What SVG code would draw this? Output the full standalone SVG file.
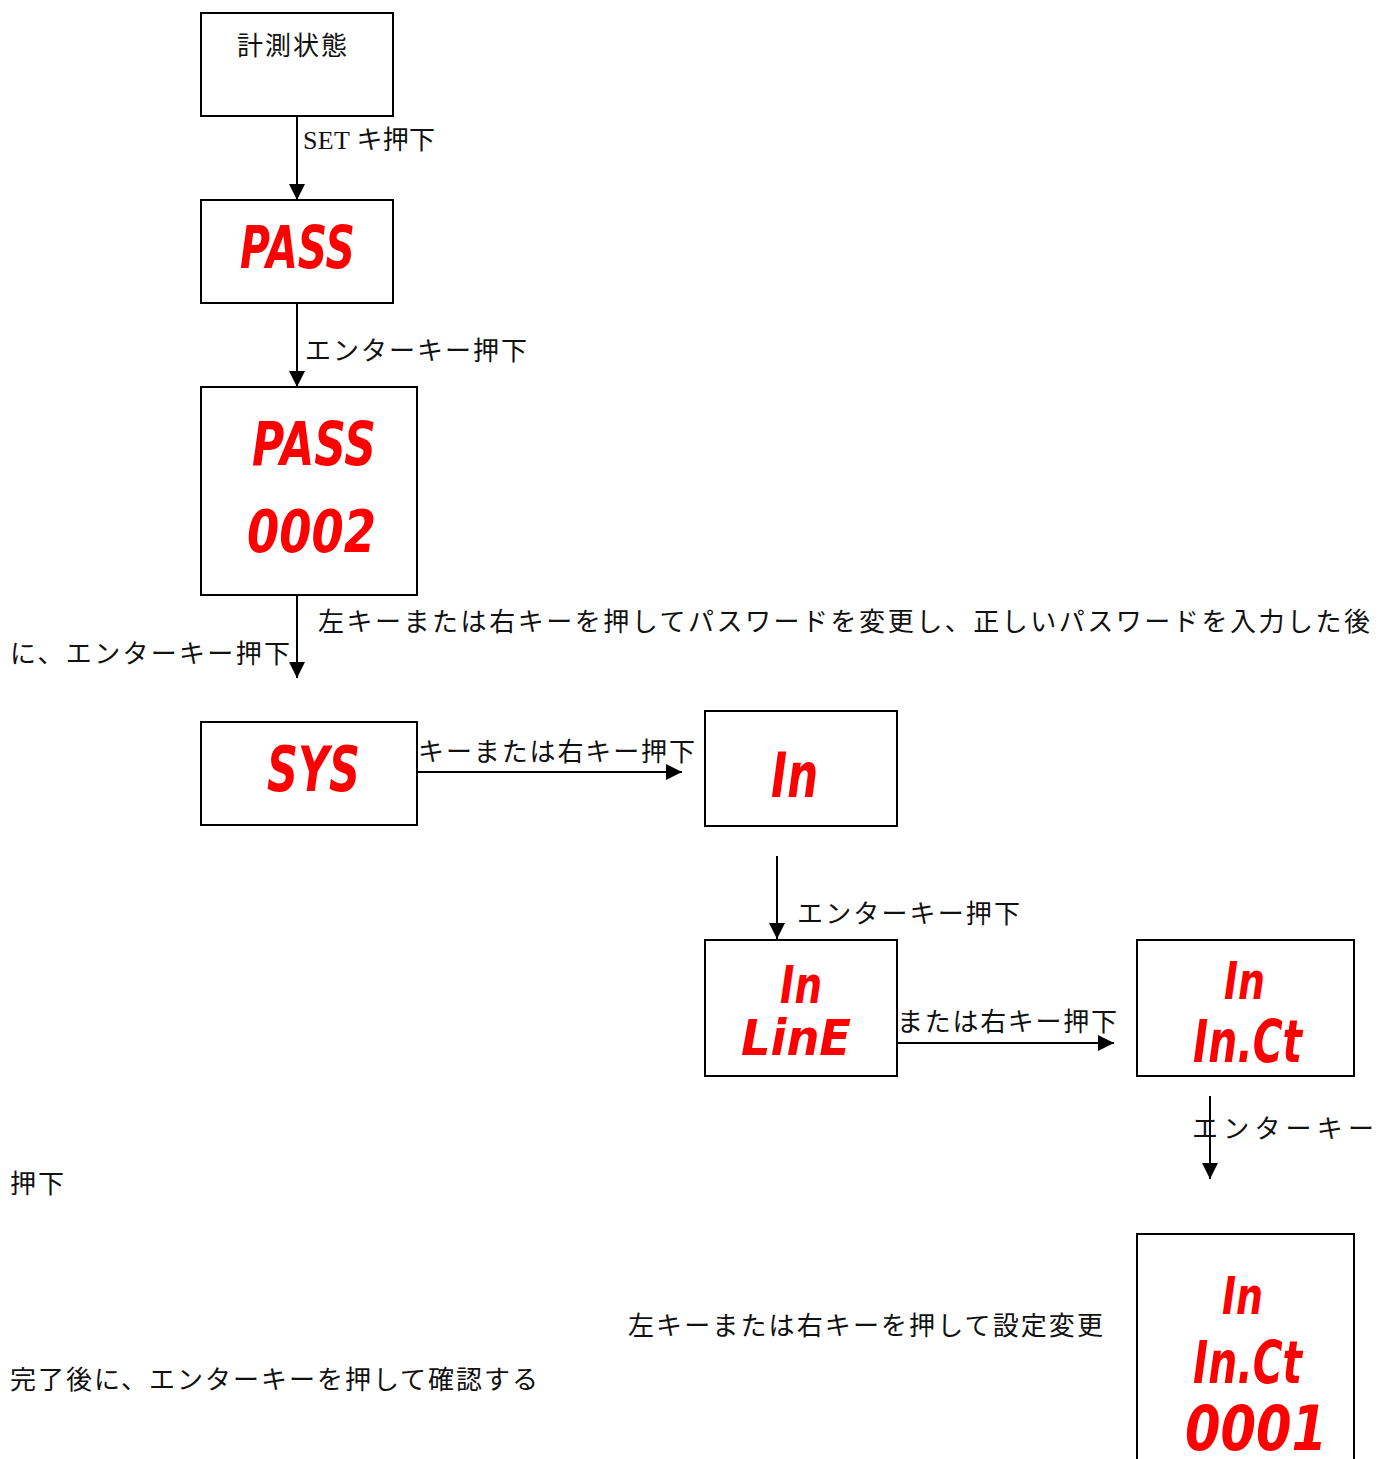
<svg xmlns="http://www.w3.org/2000/svg" width="1378" height="1459" viewBox="0 0 1378 1459">
<defs>
<style>
.box{fill:#fff;stroke:#000;stroke-width:2}
.lbl{font-family:"Liberation Serif","Noto Sans CJK JP",serif;font-size:26px;fill:#111}
.seg{font-family:"DejaVu Sans",sans-serif;font-weight:bold;font-style:italic;fill:#ff0000}
.con{stroke:#000;stroke-width:2;fill:none}
</style>
<marker id="ahb" viewBox="0 0 16 16" refX="16" refY="8" markerWidth="16" markerHeight="16" markerUnits="userSpaceOnUse" orient="auto">
<path d="M0,0 L16,8 L0,16 Z" fill="#000"/>
</marker>
</defs>
<rect width="1378" height="1459" fill="#fff"/>

<g id="connectors">
<line class="con" x1="297" y1="116" x2="297" y2="200" marker-end="url(#ahb)"/>
<line class="con" x1="297" y1="303" x2="297" y2="387" marker-end="url(#ahb)"/>
<line class="con" x1="297" y1="595" x2="297" y2="678" marker-end="url(#ahb)"/>
<line class="con" x1="417" y1="772" x2="682" y2="772" marker-end="url(#ahb)"/>
<line class="con" x1="777" y1="856" x2="777" y2="939" marker-end="url(#ahb)"/>
<line class="con" x1="897" y1="1043" x2="1114" y2="1043" marker-end="url(#ahb)"/>
<line class="con" x1="1210" y1="1096" x2="1210" y2="1179" marker-end="url(#ahb)"/>
<text class="lbl" x="303" y="149" textLength="132">SET キ押下</text>
<text class="lbl" x="305" y="360" textLength="222">エンターキー押下</text>
<text class="lbl" x="318" y="631" textLength="1052">左キーまたは右キーを押してパスワードを変更し、正しいパスワードを入力した後</text>
<text class="lbl" x="10" y="663" textLength="280">に、エンターキー押下</text>
<text class="lbl" x="418" y="761" textLength="277">キーまたは右キー押下</text>
<text class="lbl" x="797" y="923" textLength="223">エンターキー押下</text>
<text class="lbl" x="897" y="1031" textLength="220">または右キー押下</text>
<text class="lbl" x="1192" y="1138" textLength="182">エンターキー</text>
<text class="lbl" x="10" y="1193" textLength="54">押下</text>
<text class="lbl" x="628" y="1335" textLength="475">左キーまたは右キーを押して設定変更</text>
<text class="lbl" x="10" y="1389" textLength="528">完了後に、エンターキーを押して確認する</text>
</g>

<g id="node-measure">
<rect class="box" x="201" y="13" width="192" height="103"/>
<text class="lbl" x="237" y="55" textLength="110">計測状態</text>
</g>

<g id="node-pass">
<rect class="box" x="201" y="200" width="192" height="103"/>
<text class="seg" x="240" y="268" font-size="58" textLength="115" lengthAdjust="spacingAndGlyphs">PASS</text>
</g>

<g id="node-pass-0002">
<rect class="box" x="201" y="387" width="216" height="208"/>
<text class="seg" x="252" y="465" font-size="60" textLength="124" lengthAdjust="spacingAndGlyphs">PASS</text>
<text class="seg" x="247" y="552" font-size="58" textLength="129" lengthAdjust="spacingAndGlyphs">0002</text>
</g>

<g id="node-sys">
<rect class="box" x="201" y="722" width="216" height="103"/>
<text class="seg" x="267" y="791" font-size="62" textLength="93" lengthAdjust="spacingAndGlyphs">SYS</text>
</g>

<g id="node-in">
<rect class="box" x="705" y="711" width="192" height="115"/>
<text class="seg" x="771" y="797" font-size="62" textLength="47" lengthAdjust="spacingAndGlyphs">In</text>
</g>

<g id="node-in-line">
<rect class="box" x="705" y="940" width="192" height="136"/>
<text class="seg" x="780" y="1003" font-size="52" textLength="42" lengthAdjust="spacingAndGlyphs">In</text>
<text class="seg" x="741" y="1055" font-size="50" textLength="110" lengthAdjust="spacingAndGlyphs">LinE</text>
</g>

<g id="node-in-inct">
<rect class="box" x="1137" y="940" width="217" height="136"/>
<text class="seg" x="1224" y="999" font-size="52" textLength="41" lengthAdjust="spacingAndGlyphs">In</text>
<text class="seg" x="1193" y="1062" font-size="58" textLength="109" lengthAdjust="spacingAndGlyphs">In.Ct</text>
</g>

<g id="node-in-inct-0001">
<rect class="box" x="1137" y="1234" width="217" height="240"/>
<text class="seg" x="1222" y="1314" font-size="52" textLength="41" lengthAdjust="spacingAndGlyphs">In</text>
<text class="seg" x="1193" y="1383" font-size="58" textLength="109" lengthAdjust="spacingAndGlyphs">In.Ct</text>
<text class="seg" x="1185" y="1450" font-size="62" textLength="142" lengthAdjust="spacingAndGlyphs">0001</text>
</g>
</svg>
